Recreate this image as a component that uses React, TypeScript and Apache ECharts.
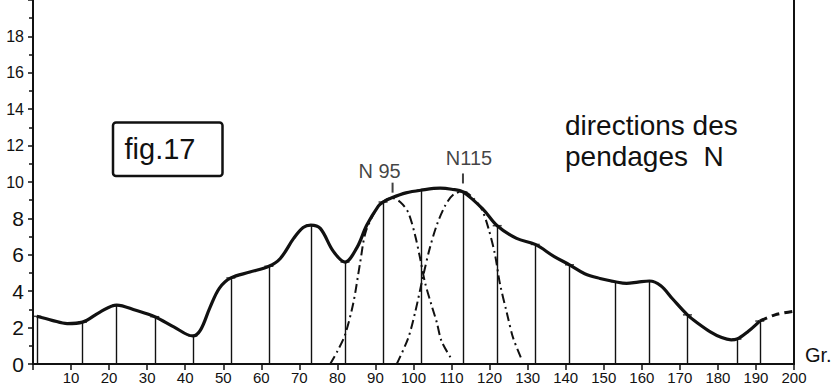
import React, { useEffect, useRef } from "react";
import * as echarts from "echarts";

// Class centres (grades) and frequencies of the histogram drop lines
const classX = [1, 13, 22, 32, 42, 52, 62, 73, 82, 92, 102, 113, 122, 132, 141, 153, 162, 172, 185, 191];
const classFreq = [2.62, 2.3, 3.24, 2.6, 1.54, 4.73, 5.37, 7.63, 5.6, 8.9, 9.55, 9.45, 7.6, 6.57, 5.45, 4.52, 4.56, 2.7, 1.37, 2.36];

// Intermediate points of the smoothed frequency curve
const bendX = [5, 9, 17.5, 27, 37, 44, 46.5, 49, 57, 65, 68.5, 71, 75.5, 78.9, 85.1, 87.7, 90.8, 94.3, 98, 107, 110, 118.3, 127.1, 137, 145, 149, 156, 159, 165, 168, 175, 178, 181, 183.5, 188];
const bendY = [2.4, 2.22, 2.84, 2.95, 2.04, 1.86, 3.1, 4.17, 5.05, 5.8, 6.9, 7.5, 7.45, 6.2, 6.38, 7.62, 8.69, 9.13, 9.4, 9.66, 9.6, 8.5, 6.9, 5.9, 4.96, 4.7, 4.43, 4.5, 4.3, 3.6, 2.2, 1.77, 1.45, 1.33, 1.8];

// Extrapolated end of the curve (dashed)
const tailX = [191, 195, 200];
const tailY = [2.36, 2.7, 2.9];

// Component populations N95 and N115 (dash-dot)
const n95X = [78.1, 80, 82, 84.2, 86, 87.5, 90.8, 92.9, 94.3, 96.5, 98.6, 100.4, 101.7, 103, 104.8, 106.1, 107.4, 110];
const n95Y = [0, 0.7, 1.6, 3.37, 5.6, 7.3, 8.69, 9.04, 9.13, 8.9, 8.33, 7.09, 5.85, 4.5, 3.19, 2.3, 1.24, 0.27];
const n115X = [95.6, 98.6, 100.5, 102.6, 104.3, 106.1, 108.3, 110.5, 113.1, 115.5, 117.9, 119.7, 121.4, 122.7, 124.5, 126.2, 128.4];
const n115Y = [0, 1.42, 2.9, 4.9, 6.38, 7.62, 8.69, 9.31, 9.48, 9.15, 8.51, 7.45, 6.03, 4.43, 2.84, 1.42, 0.27];

// Peak annotations
const peakNames = ["N 95", "N115"];
const peakX = [94.5, 113];
const peakY = [9.14, 9.48];

const INK = "#111";
const FONT = "Liberation Sans";

export default function App() {
  const ref = useRef<HTMLDivElement>(null);

  useEffect(() => {
    if (!ref.current) return;
    const chart = echarts.init(ref.current, undefined, { renderer: "svg" });

    const classPts = classX.map((x, i) => [x, classFreq[i]]);
    const curvePts = classPts
      .concat(bendX.map((x, i) => [x, bendY[i]]))
      .sort((a, b) => a[0] - b[0]);

    const dashDot = { color: INK, width: 2, type: [9, 4, 2, 4] as number[] };

    chart.setOption({
      animation: false,
      backgroundColor: "#fff",
      grid: { left: 33, right: 45, top: -11, bottom: 27 },
      xAxis: {
        type: "value",
        min: 0,
        max: 200,
        interval: 10,
        axisLine: { show: true, onZero: false, lineStyle: { color: INK, width: 2 } },
        axisTick: { show: true, length: 6, lineStyle: { color: INK, width: 1.5 } },
        axisLabel: {
          color: INK,
          fontFamily: FONT,
          fontSize: 15,
          margin: 6,
          formatter: (v: number) => (v === 0 ? "" : String(v)),
        },
        splitLine: { show: false },
      },
      yAxis: [
        {
          type: "value",
          min: 0,
          max: 20,
          interval: 2,
          axisLine: { show: true, lineStyle: { color: INK, width: 2 } },
          axisTick: { show: true, length: 5, lineStyle: { color: INK, width: 1.5 } },
          minorTick: { show: true, splitNumber: 2, length: 4, lineStyle: { color: INK, width: 1.5 } },
          axisLabel: {
            showMaxLabel: false,
            margin: 9,
            formatter: (v: number) => (v < 10 ? `{a|${v}}` : `{b|${v}}`),
            rich: {
              a: { color: INK, fontFamily: FONT, fontSize: 21 },
              b: { color: INK, fontFamily: FONT, fontSize: 16 },
            },
          },
          splitLine: { show: false },
        },
        {
          type: "value",
          position: "right",
          min: 0,
          max: 20,
          axisLine: { show: true, lineStyle: { color: INK, width: 2 } },
          axisTick: { show: false },
          axisLabel: { show: false },
          splitLine: { show: false },
        },
      ],
      series: [
        {
          name: "classes",
          type: "scatter",
          data: classPts,
          symbol: "rect",
          symbolSize: [9, 1.5],
          itemStyle: { color: INK },
          z: 3,
          markLine: {
            silent: true,
            symbol: ["none", "none"],
            label: { show: false },
            lineStyle: { color: INK, width: 1.4, type: "solid" },
            data: classPts.map((p) => [{ coord: [p[0], 0] }, { coord: [p[0], p[1]] }]),
          },
        },
        {
          name: "N95",
          type: "line",
          data: n95X.map((x, i) => [x, n95Y[i]]),
          smooth: 0.3,
          showSymbol: false,
          lineStyle: dashDot,
          z: 2,
        },
        {
          name: "N115",
          type: "line",
          data: n115X.map((x, i) => [x, n115Y[i]]),
          smooth: 0.3,
          showSymbol: false,
          lineStyle: dashDot,
          z: 2,
        },
        {
          name: "profile",
          type: "line",
          data: curvePts,
          smooth: 0.35,
          showSymbol: false,
          lineStyle: { color: INK, width: 3.2 },
          z: 4,
        },
        {
          name: "tail",
          type: "line",
          data: tailX.map((x, i) => [x, tailY[i]]),
          smooth: 0.3,
          showSymbol: false,
          lineStyle: { color: INK, width: 3, type: [8, 5] },
          z: 4,
        },
        {
          name: "peakTicks",
          type: "scatter",
          data: peakX.map((x, i) => ({
            value: [x, peakY[i]],
            symbolOffset: [0, i === 0 ? -10 : -13],
          })),
          symbol: "rect",
          symbolSize: [2, 10],
          itemStyle: { color: INK },
          z: 5,
        },
        {
          name: "peakLabels",
          type: "scatter",
          data: peakX.map((x, i) => ({
            value: [x, peakY[i]],
            label: {
              formatter: peakNames[i],
              offset: i === 0 ? [-13, -27] : [6, -33],
            },
          })),
          symbolSize: 0,
          label: {
            show: true,
            position: "inside",
            color: INK,
            fontFamily: FONT,
            fontSize: 20,
          },
          z: 5,
        },
      ],
      graphic: [
        {
          type: "rect",
          shape: { x: 113, y: 122.5, width: 109.5, height: 53.5, r: 3 },
          style: { fill: "none", stroke: INK, lineWidth: 2.5 },
        },
        {
          type: "text",
          x: 160,
          y: 149,
          style: {
            text: "fig.17",
            fill: INK,
            font: `29px "${FONT}"`,
            textAlign: "center",
            textVerticalAlign: "middle",
          },
        },
        {
          type: "text",
          x: 565,
          y: 125,
          style: {
            text: "directions des",
            fill: INK,
            font: `28px "${FONT}"`,
            textAlign: "left",
            textVerticalAlign: "middle",
          },
        },
        {
          type: "text",
          x: 565,
          y: 156,
          style: {
            text: "pendages  N",
            fill: INK,
            font: `28px "${FONT}"`,
            textAlign: "left",
            textVerticalAlign: "middle",
          },
        },
        {
          type: "text",
          x: 805,
          y: 355,
          style: {
            text: "Gr.",
            fill: INK,
            font: `20px "${FONT}"`,
            textAlign: "left",
            textVerticalAlign: "middle",
          },
        },
      ],
    });

    return () => chart.dispose();
  }, []);

  return (
    <div
      ref={ref}
      style={{ position: "absolute", left: 0, top: 0, width: 839, height: 391 }}
    />
  );
}
